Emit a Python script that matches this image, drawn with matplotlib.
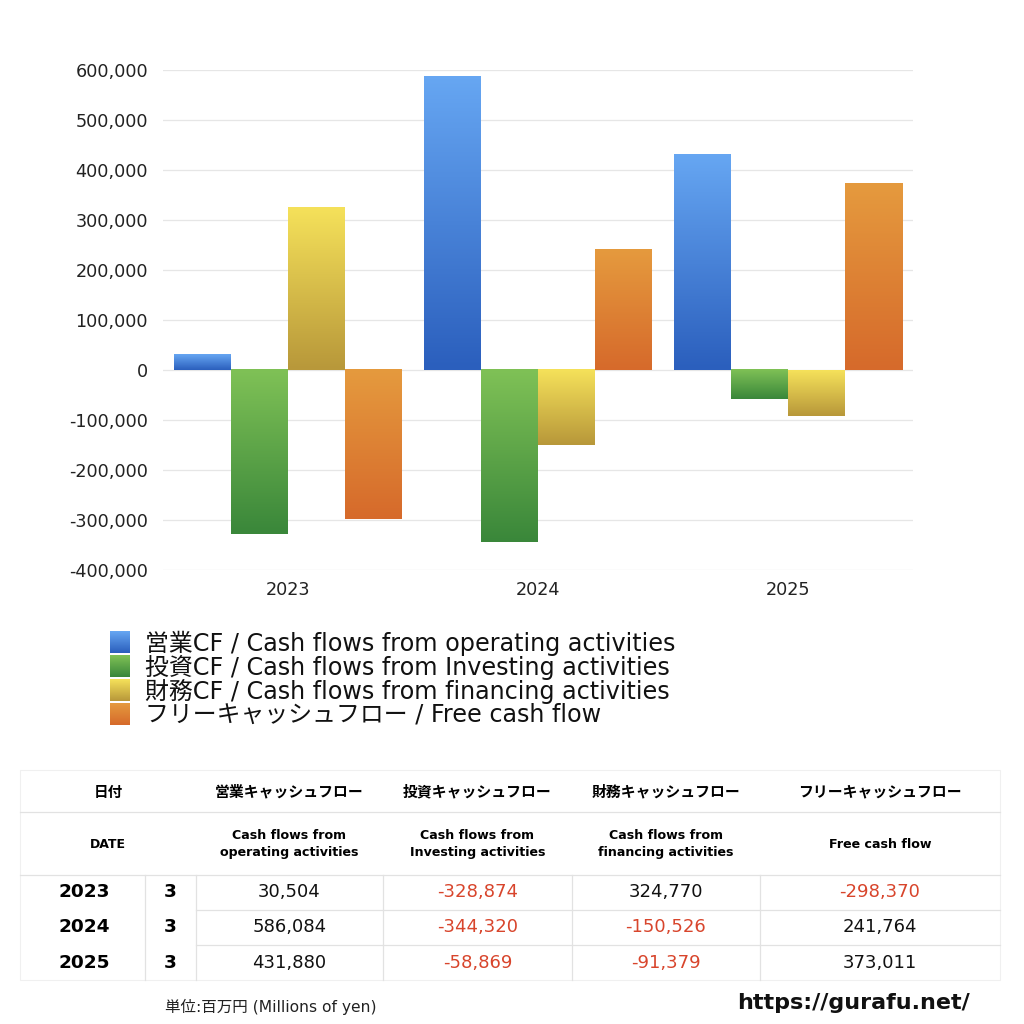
import numpy as np
import matplotlib
matplotlib.use("Agg")
from matplotlib import pyplot as plt
from matplotlib.colors import LinearSegmentedColormap
from matplotlib.patches import Rectangle
from matplotlib.ticker import FuncFormatter

plt.rcParams["font.family"] = ["DejaVu Sans", "Noto Sans CJK JP"]

years = ["2023", "2024", "2025"]
months = [3, 3, 3]
operating = [30504, 586084, 431880]
investing = [-328874, -344320, -58869]
financing = [324770, -150526, -91379]
free_cf = [-298370, 241764, 373011]

series = [operating, investing, financing, free_cf]
legend_labels = [
    "営業CF / Cash flows from operating activities",
    "投資CF / Cash flows from Investing activities",
    "財務CF / Cash flows from financing activities",
    "フリーキャッシュフロー / Free cash flow",
]
# (top colour, bottom colour) of each gradient
gradients = [
    ("#66a6f2", "#2b5fbd"),
    ("#7fc156", "#3a873a"),
    ("#f5e15a", "#b8983a"),
    ("#e59a3e", "#d66a2b"),
]
table_heads_jp = ["営業キャッシュフロー", "投資キャッシュフロー",
                  "財務キャッシュフロー", "フリーキャッシュフロー"]
table_heads_en = ["Cash flows from\noperating activities",
                  "Cash flows from\nInvesting activities",
                  "Cash flows from\nfinancing activities",
                  "Free cash flow"]

fig = plt.figure(figsize=(10.24, 10.24), dpi=100)
ax = fig.add_axes([163 / 1024, 1 - 570 / 1024, 750 / 1024, 500 / 1024])

x = np.arange(len(years))
width = 0.228
for i, vals in enumerate(series):
    offs = (i - 1.5) * width
    bars = ax.bar(x + offs, vals, width, color="none", zorder=2)
    cmap = LinearSegmentedColormap.from_list(f"g{i}", [gradients[i][1], gradients[i][0]])
    for b in bars:
        x0, y0 = b.get_x(), b.get_y()
        w, h = b.get_width(), b.get_height()
        lo, hi = min(y0, y0 + h), max(y0, y0 + h)
        grad = np.linspace(1, 0, 64).reshape(-1, 1)
        ax.imshow(grad, cmap=cmap, extent=[x0, x0 + w, lo, hi],
                  aspect="auto", zorder=2, interpolation="bicubic")

ax.set_xlim(-0.5, 2.5)
ax.set_ylim(-400000, 600000)
ax.set_yticks(np.arange(-400000, 600001, 100000))
ax.yaxis.set_major_formatter(FuncFormatter(lambda v, p: f"{int(v):,}"))
ax.set_xticks(x)
ax.set_xticklabels(years)
ax.grid(axis="y", color="#e6e6e6", linewidth=0.9, zorder=0)
ax.set_axisbelow(True)
for s in ax.spines.values():
    s.set_visible(False)
ax.tick_params(length=0, labelsize=12.7, colors="#222222")
ax.tick_params(axis="y", pad=10.8)
ax.tick_params(axis="x", pad=8)

# overlay in pixel coordinates for legend, table and notes
ov = fig.add_axes([0, 0, 1, 1], zorder=5)
ov.axis("off")
ov.patch.set_alpha(0)

for i, lab in enumerate(legend_labels):
    yc = 642 + 24 * i
    cmap = LinearSegmentedColormap.from_list(f"l{i}", [gradients[i][1], gradients[i][0]])
    ov.imshow(np.linspace(1, 0, 32).reshape(-1, 1), cmap=cmap,
              extent=[110, 130, yc + 11, yc - 11], aspect="auto")
    ov.text(145, yc + 1, lab, fontsize=17.2, va="center", ha="left", color="#111111")
ov.set_xlim(0, 1024)
ov.set_ylim(1024, 0)

# table
line_c = "#e2e2e2"
left, right = 20, 1000
col_edges = [20, 145, 196, 383, 572, 760, 1000]
ov.add_patch(Rectangle((left, 770), right - left, 210, fill=False,
                       edgecolor="#f0f0f0", linewidth=0.8))
for yl in (812, 875):
    ov.plot([left, right], [yl, yl], color=line_c, lw=0.9)
for yl in (910, 945):
    ov.plot([196, right], [yl, yl], color=line_c, lw=0.9)
for xl in col_edges[1:-1]:
    ov.plot([xl, xl], [875, 980], color=line_c, lw=0.9)

ov.text(108, 792, "日付", ha="center", va="center", fontsize=10.5, weight="bold")
ov.text(108, 844, "DATE", ha="center", va="center", fontsize=9, weight="bold")
for j in range(4):
    cx = (col_edges[j + 2] + col_edges[j + 3]) / 2
    ov.text(cx, 792, table_heads_jp[j], ha="center", va="center",
            fontsize=10.7, weight="bold")
    ov.text(cx, 844, table_heads_en[j], ha="center", va="center",
            fontsize=9.1, weight="bold", linespacing=1.45)

for r in range(len(years)):
    yc = 892 + 35.5 * r
    ov.text(58, yc, years[r], ha="left", va="center", fontsize=13.3, weight="bold")
    ov.text(170, yc, str(months[r]), ha="center", va="center", fontsize=13.3, weight="bold")
    for j, vals in enumerate(series):
        cx = (col_edges[j + 2] + col_edges[j + 3]) / 2
        v = vals[r]
        ov.text(cx, yc, f"{v:,}", ha="center", va="center", fontsize=13,
                color="#d8452c" if v < 0 else "#111111")

ov.text(165, 1007, "単位:百万円 (Millions of yen)", ha="left", va="center",
        fontsize=11.2, color="#222222")
ov.text(970, 1003, "https://gurafu.net/", ha="right", va="center",
        fontsize=16, weight="bold", color="#111111")

fig.savefig("out.png", dpi=100, facecolor="white")
